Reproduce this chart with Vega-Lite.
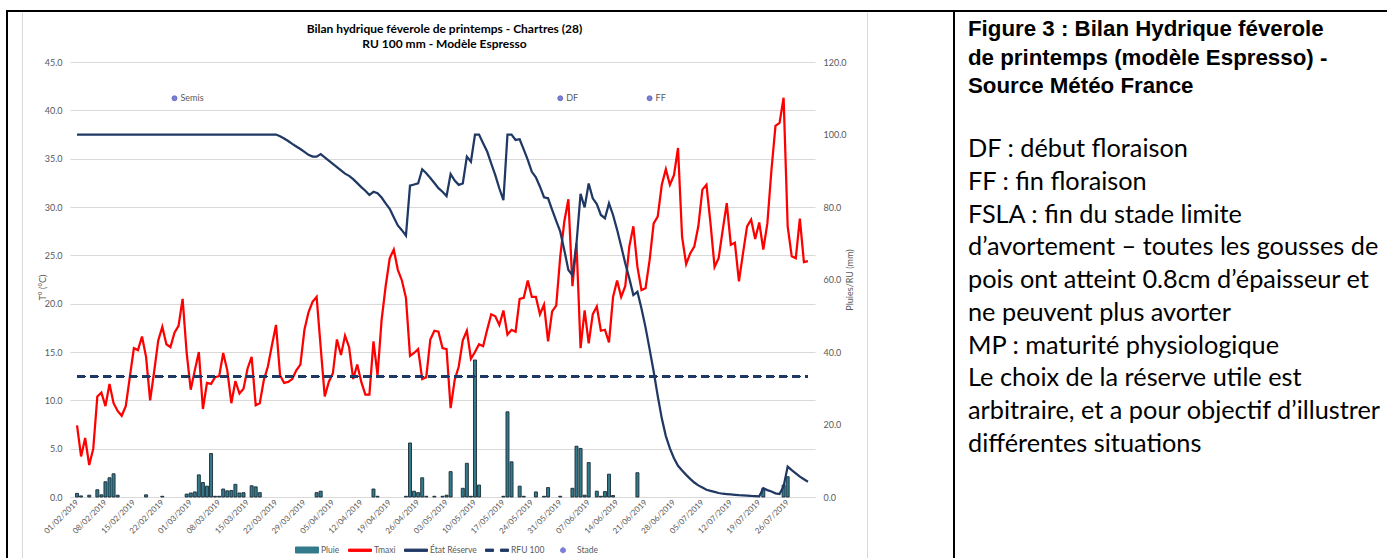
{
  "$schema": "https://vega.github.io/schema/vega-lite/v6.json",
  "background": "white",
  "padding": {"left": 6, "top": 10, "right": 0, "bottom": 0},
  "bounds": "flush",
  "spacing": 0,
  "config": {
    "font": "Lato",
    "axis": {"labelFont": "Lato", "titleFont": "Lato", "labelColor": "#595959", "titleColor": "#595959", "titleFontWeight": "normal"},
    "legend": {"labelFont": "Lato", "labelColor": "#595959"}
  },
  "datasets": {
    "daily": [
      {"date": "2019-02-01", "tmax": 7.4, "reserve": 100, "pluie": 1.0},
      {"date": "2019-02-02", "tmax": 4.2, "reserve": 100, "pluie": 0.3},
      {"date": "2019-02-03", "tmax": 6.1, "reserve": 100},
      {"date": "2019-02-04", "tmax": 3.3, "reserve": 100, "pluie": 0.5},
      {"date": "2019-02-05", "tmax": 5.0, "reserve": 100},
      {"date": "2019-02-06", "tmax": 10.4, "reserve": 100, "pluie": 2.0},
      {"date": "2019-02-07", "tmax": 10.8, "reserve": 100, "pluie": 0.6},
      {"date": "2019-02-08", "tmax": 9.4, "reserve": 100, "pluie": 4.2},
      {"date": "2019-02-09", "tmax": 11.7, "reserve": 100, "pluie": 5.3},
      {"date": "2019-02-10", "tmax": 9.7, "reserve": 100, "pluie": 6.4},
      {"date": "2019-02-11", "tmax": 8.9, "reserve": 100, "pluie": 0.5},
      {"date": "2019-02-12", "tmax": 8.4, "reserve": 100},
      {"date": "2019-02-13", "tmax": 9.4, "reserve": 100},
      {"date": "2019-02-14", "tmax": 12.4, "reserve": 100},
      {"date": "2019-02-15", "tmax": 15.4, "reserve": 100},
      {"date": "2019-02-16", "tmax": 15.2, "reserve": 100},
      {"date": "2019-02-17", "tmax": 16.6, "reserve": 100},
      {"date": "2019-02-18", "tmax": 14.5, "reserve": 100, "pluie": 0.6},
      {"date": "2019-02-19", "tmax": 10.0, "reserve": 100},
      {"date": "2019-02-20", "tmax": 13.0, "reserve": 100},
      {"date": "2019-02-21", "tmax": 16.2, "reserve": 100},
      {"date": "2019-02-22", "tmax": 17.6, "reserve": 100, "pluie": 0.2},
      {"date": "2019-02-23", "tmax": 15.8, "reserve": 100},
      {"date": "2019-02-24", "tmax": 15.5, "reserve": 100},
      {"date": "2019-02-25", "tmax": 17.0, "reserve": 100},
      {"date": "2019-02-26", "tmax": 17.7, "reserve": 100},
      {"date": "2019-02-27", "tmax": 20.5, "reserve": 100},
      {"date": "2019-02-28", "tmax": 14.9, "reserve": 100, "pluie": 0.8},
      {"date": "2019-03-01", "tmax": 11.1, "reserve": 100, "pluie": 1.1},
      {"date": "2019-03-02", "tmax": 13.1, "reserve": 100, "pluie": 1.4},
      {"date": "2019-03-03", "tmax": 15.0, "reserve": 100, "pluie": 6.1},
      {"date": "2019-03-04", "tmax": 9.1, "reserve": 100, "pluie": 4.0},
      {"date": "2019-03-05", "tmax": 11.8, "reserve": 100, "pluie": 3.0},
      {"date": "2019-03-06", "tmax": 11.7, "reserve": 100, "pluie": 12.0},
      {"date": "2019-03-07", "tmax": 12.4, "reserve": 100, "pluie": 0.2},
      {"date": "2019-03-08", "tmax": 12.5, "reserve": 100, "pluie": 0.2},
      {"date": "2019-03-09", "tmax": 14.9, "reserve": 100, "pluie": 2.2},
      {"date": "2019-03-10", "tmax": 13.1, "reserve": 100, "pluie": 1.7},
      {"date": "2019-03-11", "tmax": 9.7, "reserve": 100, "pluie": 1.8},
      {"date": "2019-03-12", "tmax": 12.0, "reserve": 100, "pluie": 3.5},
      {"date": "2019-03-13", "tmax": 10.7, "reserve": 100, "pluie": 1.1},
      {"date": "2019-03-14", "tmax": 11.2, "reserve": 100, "pluie": 1.2},
      {"date": "2019-03-15", "tmax": 13.3, "reserve": 100},
      {"date": "2019-03-16", "tmax": 14.5, "reserve": 100, "pluie": 3.1},
      {"date": "2019-03-17", "tmax": 9.5, "reserve": 100, "pluie": 2.8},
      {"date": "2019-03-18", "tmax": 9.7, "reserve": 100, "pluie": 1.2},
      {"date": "2019-03-19", "tmax": 12.1, "reserve": 100},
      {"date": "2019-03-20", "tmax": 13.5, "reserve": 100},
      {"date": "2019-03-21", "tmax": 15.7, "reserve": 100},
      {"date": "2019-03-22", "tmax": 17.8, "reserve": 100},
      {"date": "2019-03-23", "tmax": 12.6, "reserve": 99.5},
      {"date": "2019-03-24", "tmax": 11.8, "reserve": 98.9},
      {"date": "2019-03-25", "tmax": 11.9, "reserve": 98.2},
      {"date": "2019-03-26", "tmax": 12.2, "reserve": 97.4},
      {"date": "2019-03-27", "tmax": 13.1, "reserve": 96.7},
      {"date": "2019-03-28", "tmax": 13.7, "reserve": 96.0},
      {"date": "2019-03-29", "tmax": 17.3, "reserve": 95.2},
      {"date": "2019-03-30", "tmax": 19.1, "reserve": 94.4},
      {"date": "2019-03-31", "tmax": 20.2, "reserve": 93.9},
      {"date": "2019-04-01", "tmax": 20.7, "reserve": 93.9, "pluie": 1.2},
      {"date": "2019-04-02", "tmax": 15.5, "reserve": 94.6, "pluie": 1.6},
      {"date": "2019-04-03", "tmax": 10.4, "reserve": 93.7},
      {"date": "2019-04-04", "tmax": 11.9, "reserve": 92.8},
      {"date": "2019-04-05", "tmax": 12.8, "reserve": 91.9},
      {"date": "2019-04-06", "tmax": 16.3, "reserve": 91.0},
      {"date": "2019-04-07", "tmax": 14.7, "reserve": 90.1},
      {"date": "2019-04-08", "tmax": 16.7, "reserve": 89.2},
      {"date": "2019-04-09", "tmax": 15.5, "reserve": 88.6},
      {"date": "2019-04-10", "tmax": 12.2, "reserve": 87.7},
      {"date": "2019-04-11", "tmax": 13.7, "reserve": 86.6},
      {"date": "2019-04-12", "tmax": 11.9, "reserve": 85.5},
      {"date": "2019-04-13", "tmax": 10.6, "reserve": 84.5},
      {"date": "2019-04-14", "tmax": 10.6, "reserve": 83.3},
      {"date": "2019-04-15", "tmax": 16.1, "reserve": 84.2, "pluie": 2.2},
      {"date": "2019-04-16", "tmax": 12.6, "reserve": 83.8, "pluie": 0.2},
      {"date": "2019-04-17", "tmax": 18.3, "reserve": 82.6},
      {"date": "2019-04-18", "tmax": 21.8, "reserve": 81.0},
      {"date": "2019-04-19", "tmax": 24.7, "reserve": 79.5},
      {"date": "2019-04-20", "tmax": 25.6, "reserve": 77.2},
      {"date": "2019-04-21", "tmax": 23.5, "reserve": 74.9},
      {"date": "2019-04-22", "tmax": 22.4, "reserve": 73.6},
      {"date": "2019-04-23", "tmax": 20.6, "reserve": 72.1, "pluie": 0.2},
      {"date": "2019-04-24", "tmax": 14.6, "reserve": 85.9, "pluie": 14.9},
      {"date": "2019-04-25", "tmax": 14.9, "reserve": 86.2, "pluie": 1.6},
      {"date": "2019-04-26", "tmax": 15.3, "reserve": 86.5, "pluie": 1.2},
      {"date": "2019-04-27", "tmax": 12.2, "reserve": 90.4, "pluie": 5.3},
      {"date": "2019-04-28", "tmax": 12.4, "reserve": 89.3, "pluie": 0.2},
      {"date": "2019-04-29", "tmax": 16.3, "reserve": 88.0},
      {"date": "2019-04-30", "tmax": 17.2, "reserve": 86.6, "pluie": 0.2},
      {"date": "2019-05-01", "tmax": 17.1, "reserve": 85.2},
      {"date": "2019-05-02", "tmax": 15.4, "reserve": 84.2, "pluie": 0.2},
      {"date": "2019-05-03", "tmax": 15.3, "reserve": 83.0, "pluie": 0.5},
      {"date": "2019-05-04", "tmax": 9.2, "reserve": 89.1, "pluie": 7.0},
      {"date": "2019-05-05", "tmax": 12.1, "reserve": 87.3},
      {"date": "2019-05-06", "tmax": 13.5, "reserve": 86.1},
      {"date": "2019-05-07", "tmax": 16.2, "reserve": 86.5, "pluie": 2.4},
      {"date": "2019-05-08", "tmax": 17.2, "reserve": 93.9, "pluie": 9.3},
      {"date": "2019-05-09", "tmax": 14.3, "reserve": 92.5, "pluie": 0.2},
      {"date": "2019-05-10", "tmax": 15.0, "reserve": 100, "pluie": 37.8},
      {"date": "2019-05-11", "tmax": 15.8, "reserve": 100, "pluie": 3.3},
      {"date": "2019-05-12", "tmax": 15.6, "reserve": 97.6},
      {"date": "2019-05-13", "tmax": 17.3, "reserve": 95.3},
      {"date": "2019-05-14", "tmax": 18.9, "reserve": 92.0},
      {"date": "2019-05-15", "tmax": 18.7, "reserve": 88.8},
      {"date": "2019-05-16", "tmax": 17.8, "reserve": 85.1},
      {"date": "2019-05-17", "tmax": 19.3, "reserve": 81.9, "pluie": 0.2},
      {"date": "2019-05-18", "tmax": 16.8, "reserve": 100, "pluie": 23.5},
      {"date": "2019-05-19", "tmax": 17.3, "reserve": 100, "pluie": 9.7},
      {"date": "2019-05-20", "tmax": 17.1, "reserve": 98.5},
      {"date": "2019-05-21", "tmax": 20.5, "reserve": 98.7, "pluie": 3.0},
      {"date": "2019-05-22", "tmax": 20.6, "reserve": 95.9, "pluie": 0.2},
      {"date": "2019-05-23", "tmax": 22.4, "reserve": 93.0},
      {"date": "2019-05-24", "tmax": 20.7, "reserve": 89.7},
      {"date": "2019-05-25", "tmax": 20.7, "reserve": 88.2, "pluie": 1.4},
      {"date": "2019-05-26", "tmax": 18.9, "reserve": 85.6},
      {"date": "2019-05-27", "tmax": 19.9, "reserve": 82.7, "pluie": 0.2},
      {"date": "2019-05-28", "tmax": 16.1, "reserve": 82.4, "pluie": 2.6},
      {"date": "2019-05-29", "tmax": 19.2, "reserve": 79.2},
      {"date": "2019-05-30", "tmax": 19.8, "reserve": 76.2},
      {"date": "2019-05-31", "tmax": 24.9, "reserve": 73.2, "pluie": 0.2},
      {"date": "2019-06-01", "tmax": 28.5, "reserve": 68.1},
      {"date": "2019-06-02", "tmax": 30.8, "reserve": 62.6},
      {"date": "2019-06-03", "tmax": 21.8, "reserve": 61.2, "pluie": 2.4},
      {"date": "2019-06-04", "tmax": 26.2, "reserve": 70.0, "pluie": 14.0},
      {"date": "2019-06-05", "tmax": 15.4, "reserve": 83.6, "pluie": 13.4},
      {"date": "2019-06-06", "tmax": 19.3, "reserve": 79.9, "pluie": 0.5},
      {"date": "2019-06-07", "tmax": 15.9, "reserve": 86.5, "pluie": 9.5},
      {"date": "2019-06-08", "tmax": 18.9, "reserve": 82.4},
      {"date": "2019-06-09", "tmax": 19.7, "reserve": 80.8, "pluie": 1.6},
      {"date": "2019-06-10", "tmax": 17.2, "reserve": 77.8, "pluie": 0.2},
      {"date": "2019-06-11", "tmax": 17.3, "reserve": 76.9, "pluie": 1.5},
      {"date": "2019-06-12", "tmax": 16.0, "reserve": 81.0, "pluie": 6.3},
      {"date": "2019-06-13", "tmax": 20.7, "reserve": 77.8, "pluie": 0.4},
      {"date": "2019-06-14", "tmax": 22.4, "reserve": 73.7},
      {"date": "2019-06-15", "tmax": 20.7, "reserve": 69.2},
      {"date": "2019-06-16", "tmax": 21.8, "reserve": 64.5},
      {"date": "2019-06-17", "tmax": 25.9, "reserve": 60.3},
      {"date": "2019-06-18", "tmax": 28.0, "reserve": 55.7},
      {"date": "2019-06-19", "tmax": 23.8, "reserve": 56.6, "pluie": 6.7},
      {"date": "2019-06-20", "tmax": 21.4, "reserve": 52.0},
      {"date": "2019-06-21", "tmax": 21.6, "reserve": 46.8},
      {"date": "2019-06-22", "tmax": 24.5, "reserve": 40.8},
      {"date": "2019-06-23", "tmax": 28.3, "reserve": 34.6},
      {"date": "2019-06-24", "tmax": 29.0, "reserve": 27.9},
      {"date": "2019-06-25", "tmax": 32.3, "reserve": 21.7},
      {"date": "2019-06-26", "tmax": 33.9, "reserve": 16.8},
      {"date": "2019-06-27", "tmax": 32.3, "reserve": 13.4},
      {"date": "2019-06-28", "tmax": 33.3, "reserve": 10.7},
      {"date": "2019-06-29", "tmax": 36.1, "reserve": 8.6},
      {"date": "2019-06-30", "tmax": 26.9, "reserve": 7.3},
      {"date": "2019-07-01", "tmax": 24.1, "reserve": 6.1},
      {"date": "2019-07-02", "tmax": 25.2, "reserve": 5.0},
      {"date": "2019-07-03", "tmax": 25.9, "reserve": 4.0},
      {"date": "2019-07-04", "tmax": 28.0, "reserve": 3.2},
      {"date": "2019-07-05", "tmax": 31.8, "reserve": 2.6},
      {"date": "2019-07-06", "tmax": 32.3, "reserve": 2.0},
      {"date": "2019-07-07", "tmax": 28.3, "reserve": 1.7},
      {"date": "2019-07-08", "tmax": 23.8, "reserve": 1.4},
      {"date": "2019-07-09", "tmax": 24.7, "reserve": 1.1},
      {"date": "2019-07-10", "tmax": 27.6, "reserve": 0.9},
      {"date": "2019-07-11", "tmax": 30.4, "reserve": 0.8},
      {"date": "2019-07-12", "tmax": 26.1, "reserve": 0.7},
      {"date": "2019-07-13", "tmax": 26.3, "reserve": 0.6},
      {"date": "2019-07-14", "tmax": 22.3, "reserve": 0.5},
      {"date": "2019-07-15", "tmax": 25.2, "reserve": 0.45},
      {"date": "2019-07-16", "tmax": 28.0, "reserve": 0.4},
      {"date": "2019-07-17", "tmax": 28.7, "reserve": 0.3},
      {"date": "2019-07-18", "tmax": 26.7, "reserve": 0.25},
      {"date": "2019-07-19", "tmax": 28.4, "reserve": 0.2},
      {"date": "2019-07-20", "tmax": 25.6, "reserve": 2.4, "pluie": 2.4},
      {"date": "2019-07-21", "tmax": 28.3, "reserve": 1.9},
      {"date": "2019-07-22", "tmax": 33.8, "reserve": 1.5},
      {"date": "2019-07-23", "tmax": 38.4, "reserve": 1.0},
      {"date": "2019-07-24", "tmax": 38.7, "reserve": 0.8},
      {"date": "2019-07-25", "tmax": 41.3, "reserve": 2.9, "pluie": 3.3},
      {"date": "2019-07-26", "tmax": 28.0, "reserve": 8.4, "pluie": 5.6},
      {"date": "2019-07-27", "tmax": 24.9, "reserve": 7.4},
      {"date": "2019-07-28", "tmax": 24.7, "reserve": 6.5},
      {"date": "2019-07-29", "tmax": 28.8, "reserve": 5.6},
      {"date": "2019-07-30", "tmax": 24.3, "reserve": 4.9},
      {"date": "2019-07-31", "tmax": 24.4, "reserve": 4.2}
    ],
    "stades": [
      {"date": "2019-02-25", "niveau": 110, "stade": "Semis"},
      {"date": "2019-05-31", "niveau": 110, "stade": "DF"},
      {"date": "2019-06-22", "niveau": 110, "stade": "FF"}
    ]
  },
  "hconcat": [
    {
      "width": 947,
      "height": 560,
      "view": {"stroke": "#000000", "strokeWidth": 2},
      "title": {
        "text": ["Bilan hydrique féverole de printemps - Chartres (28)", "RU 100 mm - Modèle Espresso"],
        "anchor": "middle",
        "frame": "group",
        "offset": -40,
        "dx": -36,
        "font": "Lato",
        "fontSize": 12,
        "fontWeight": "bold",
        "lineHeight": 15,
        "color": "#000000"
      },
      "data": {"name": "daily"},
      "encoding": {
        "x": {
          "field": "date",
          "type": "temporal",
          "scale": {"type": "utc", "domain": [1548936000000, 1564574400000], "range": [63, 808]},
          "axis": {
            "title": null,
            "offset": -74,
            "values": [1548979200000, 1549584000000, 1550188800000, 1550793600000, 1551398400000, 1552003200000, 1552608000000, 1553212800000, 1553817600000, 1554422400000, 1555027200000, 1555632000000, 1556236800000, 1556841600000, 1557446400000, 1558051200000, 1558656000000, 1559260800000, 1559865600000, 1560470400000, 1561075200000, 1561680000000, 1562284800000, 1562889600000, 1563494400000, 1564099200000],
            "format": "%d/%m/%Y",
            "labelAngle": -45,
            "labelAlign": "right",
            "labelBaseline": "middle",
            "labelFontSize": 8,
            "labelPadding": 4,
            "labelOverlap": false,
            "labelFlush": false,
            "labelBound": false,
            "grid": false,
            "domainColor": "#d9d9d9",
            "domainWidth": 1,
            "ticks": false
          }
        }
      },
      "layer": [
        {
          "encoding": {
            "y": {
              "field": "tmax",
              "type": "quantitative",
              "scale": {"domain": [0, 45], "range": [486, 51], "nice": false, "zero": false},
              "axis": {
                "orient": "left",
                "offset": -63,
                "values": [0, 5, 10, 15, 20, 25, 30, 35, 40, 45],
                "format": ".1f",
                "grid": true,
                "gridColor": "#d9d9d9",
                "gridWidth": 1,
                "domain": false,
                "ticks": false,
                "labelFontSize": 9,
                "labelPadding": 8,
                "title": "T° (°C)",
                "titleColor": "#595959",
                "titleFontSize": 9,
                "titleX": -23,
                "titleY": 276
              }
            }
          },
          "layer": [
            {
              "mark": {"type": "line", "strokeWidth": 2.25, "interpolate": "linear"},
              "encoding": {
                "color": {
                  "datum": "Tmaxi",
                  "scale": {
                    "domain": ["Pluie", "Tmaxi", "État Réserve", "RFU 100", "Stade"],
                    "range": ["#337a8c", "#ff0000", "#1f3864", "#1f3864", "#7b7fd8"]
                  },
                  "legend": {
                    "title": null,
                    "orient": "none",
                    "legendX": 288,
                    "legendY": 527,
                    "direction": "horizontal",
                    "padding": 0,
                    "columnPadding": 6,
                    "labelFontSize": 8.5,
                    "labelOffset": 2,
                    "encode": {
                      "symbols": {
                        "update": {
                          "shape": {"signal": "datum.value === 'Stade' ? 'M0.22,0A0.22,0.22,0,1,1,-0.22,0A0.22,0.22,0,1,1,0.22,0Z' : datum.value === 'Pluie' ? 'M-1,-0.26H1V0.26H-1Z' : datum.value === 'RFU 100' ? 'M-1,-0.1H-0.3V0.1H-1Z M0.3,-0.1H1V0.1H0.3Z' : 'M-1,-0.1H1V0.1H-1Z'"},
                          "size": {"value": 529},
                          "strokeWidth": {"value": 1},
                          "fill": {"signal": "datum.value === 'Pluie' ? '#4bacc6' : datum.value === 'Tmaxi' ? '#ff0000' : datum.value === 'Stade' ? '#7b7fd8' : '#1f3864'"},
                          "stroke": {"signal": "datum.value === 'Pluie' ? '#1d3340' : datum.value === 'Stade' ? '#5a5db5' : 'transparent'"},
                          "opacity": {"value": 1}
                        }
                      }
                    }
                  }
                }
              }
            }
          ]
        },
        {
          "layer": [
            {
              "transform": [{"filter": "datum.pluie > 0"}],
              "mark": {"type": "bar", "width": 3, "stroke": "#1a2b35", "strokeWidth": 0.9},
              "encoding": {
                "y": {
                  "field": "pluie",
                  "type": "quantitative",
                  "scale": {"domain": [0, 120], "range": [486, 51], "nice": false},
                  "axis": {
                    "orient": "right",
                    "offset": -139,
                    "values": [0, 20, 40, 60, 80, 100, 120],
                    "format": ".1f",
                    "grid": false,
                    "domain": false,
                    "ticks": false,
                    "labelFontSize": 9,
                    "labelPadding": 8,
                    "title": "Pluies/RU (mm)",
                    "titleColor": "#595959",
                    "titleFontSize": 9,
                    "titleAngle": -90,
                    "titlePadding": 8
                  }
                },
                "color": {"datum": "Pluie"}
              }
            },
            {
              "mark": {"type": "line", "strokeWidth": 2.25},
              "encoding": {
                "y": {"field": "reserve", "type": "quantitative"},
                "color": {"datum": "État Réserve"}
              }
            },
            {
              "mark": {"type": "rule", "strokeWidth": 2, "strokeDash": [8, 5]},
              "encoding": {
                "x": {"datum": {"year": 2019, "month": 2, "date": 1, "utc": true}, "type": "temporal"},
                "x2": {"datum": {"year": 2019, "month": 7, "date": 31, "utc": true}},
                "y": {"datum": 33.33, "type": "quantitative"},
                "color": {"datum": "RFU 100"}
              }
            },
            {
              "data": {"name": "stades"},
              "mark": {"type": "point", "filled": true, "size": 25, "stroke": "#5a5db5", "strokeWidth": 0.75, "opacity": 1},
              "encoding": {
                "y": {"field": "niveau", "type": "quantitative"},
                "color": {"datum": "Stade"}
              }
            },
            {
              "data": {"name": "stades"},
              "mark": {"type": "text", "align": "left", "baseline": "middle", "dx": 6, "font": "Lato", "fontSize": 9, "color": "#595959"},
              "encoding": {
                "y": {"field": "niveau", "type": "quantitative"},
                "text": {"field": "stade"}
              }
            }
          ]
        },
        {
          "mark": {"type": "rule", "opacity": 0},
          "encoding": {
            "x": {"datum": {"year": 2019, "month": 2, "date": 1, "utc": true}, "type": "temporal"},
            "y": {
              "datum": 0,
              "type": "quantitative",
              "scale": {"domain": [0, 1], "range": [1, 560]},
              "axis": {"orient": "left", "offset": -15, "domain": true, "domainColor": "#d9d9d9", "domainWidth": 1, "labels": false, "ticks": false, "grid": false, "title": null}
            }
          }
        },
        {
          "mark": {"type": "rule", "opacity": 0},
          "encoding": {
            "x": {"datum": {"year": 2019, "month": 2, "date": 1, "utc": true}, "type": "temporal"},
            "y": {
              "datum": 0,
              "type": "quantitative",
              "scale": {"domain": [0, 1], "range": [1, 560]},
              "axis": {"orient": "right", "offset": -87, "domain": true, "domainColor": "#d9d9d9", "domainWidth": 1, "labels": false, "ticks": false, "grid": false, "title": null}
            }
          }
        }
      ],
      "resolve": {"scale": {"y": "independent"}, "axis": {"y": "independent"}}
    },
    {
      "width": 440,
      "height": 560,
      "view": {"stroke": "#000000", "strokeWidth": 2},
      "title": {
        "text": ["Figure 3 : Bilan Hydrique féverole", "de printemps (modèle Espresso) -", "Source Météo France"],
        "subtitle": [
          "DF : début floraison",
          "FF : fin floraison",
          "FSLA : fin du stade limite",
          "d’avortement – toutes les gousses de",
          "pois ont atteint 0.8cm d’épaisseur et",
          "ne peuvent plus avorter",
          "MP : maturité physiologique",
          "Le choix de la réserve utile est",
          "arbitraire, et a pour objectif d’illustrer",
          "différentes situations"
        ],
        "anchor": "start",
        "frame": "group",
        "offset": -446,
        "dx": 14,
        "font": "Liberation Sans",
        "fontSize": 22.3,
        "fontWeight": "bold",
        "lineHeight": 28.5,
        "color": "#000000",
        "subtitleFont": "Lato",
        "subtitleFontSize": 25.3,
        "subtitleLineHeight": 32.7,
        "subtitleColor": "#000000",
        "subtitlePadding": 40
      },
      "data": {"values": []},
      "mark": "point"
    }
  ]
}
